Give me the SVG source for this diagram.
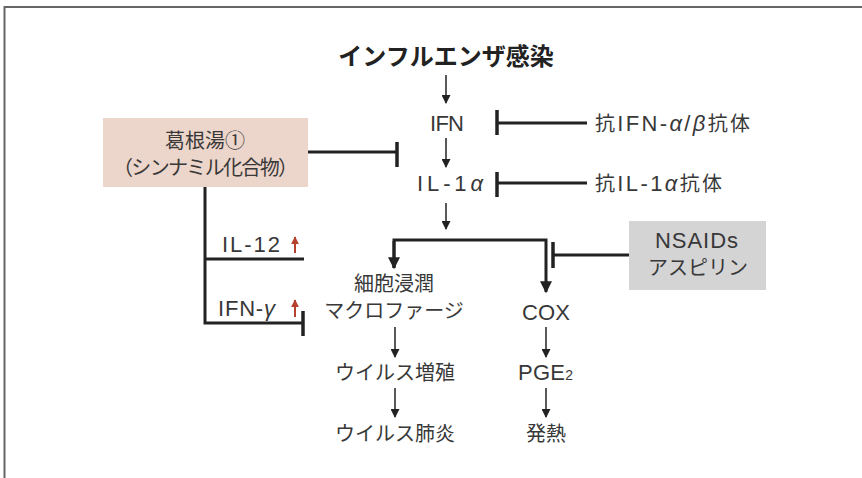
<svg xmlns="http://www.w3.org/2000/svg" width="862" height="478" viewBox="0 0 862 478">
<style>
text{font-family:"Liberation Sans","Noto Sans CJK JP",sans-serif;fill:#383838;font-size:20px;text-anchor:middle}
.s{text-anchor:start}
.l{font-size:22px}
.j{font-size:20px}
.b{stroke:#222;stroke-width:3;fill:none}
.t{stroke:#222;stroke-width:1.5;fill:none}
.bar{stroke:#222;stroke-width:3.5;fill:none}
.r{stroke:#b5412e;stroke-width:2;fill:none}
.i{font-style:italic}
</style>
<defs>
<marker id="a" viewBox="0 0 10 10" refX="9" refY="5" markerWidth="11" markerHeight="9" markerUnits="userSpaceOnUse" orient="auto"><path d="M0,0L10,5L0,10z" fill="#222"/></marker>
<marker id="ab" viewBox="0 0 10 10" refX="9" refY="5" markerWidth="13" markerHeight="12" markerUnits="userSpaceOnUse" orient="auto"><path d="M0,0L10,5L0,10z" fill="#222"/></marker>
<marker id="ar" viewBox="0 0 10 10" refX="9" refY="5" markerWidth="8" markerHeight="9" markerUnits="userSpaceOnUse" orient="auto"><path d="M0,0L10,5L0,10z" fill="#b5412e"/></marker>
</defs>
<path d="M4.5,478V7H862" stroke="#666" stroke-width="2" fill="none"/>
<g id="title"><text x="446" y="65" style="font-family:'Noto Sans CJK JP',sans-serif;font-weight:bold;font-size:24px;fill:#222">インフルエンザ感染</text></g>
<g id="ifn"><text x="430" y="131" class="s l" textLength="34">IFN</text></g>
<g id="il1a"><text x="417" y="191" class="s l" textLength="66">IL-1<tspan class="i">α</tspan></text></g>
<g id="anti-ifn"><text x="595" y="131" class="s l" textLength="155"><tspan class="j">抗</tspan>IFN-<tspan class="i">α</tspan>/<tspan class="i">β</tspan><tspan class="j">抗体</tspan></text></g>
<g id="anti-il1"><text x="595" y="191" class="s l" textLength="127"><tspan class="j">抗</tspan>IL-1<tspan class="i">α</tspan><tspan class="j">抗体</tspan></text></g>
<g id="kakkonto"><rect x="103" y="118" width="205" height="69" fill="#ecd5ca"/><text x="205" y="148">葛根湯①</text><text x="113" y="175" class="s" textLength="185">（シンナミル化合物）</text></g>
<g id="nsaids"><rect x="629" y="221" width="137" height="69" fill="#d4d4d5"/><text x="655" y="248" class="s l" textLength="83">NSAIDs</text><text x="698" y="275">アスピリン</text></g>
<g id="il12"><text x="222" y="252" class="s l" textLength="58">IL-12</text><path class="r" d="M295,253V237" marker-end="url(#ar)"/></g>
<g id="ifng"><text x="218" y="316" class="s l" textLength="57">IFN-<tspan class="i">γ</tspan></text><path class="r" d="M295,317V300" marker-end="url(#ar)"/></g>
<g id="macro"><text x="394" y="291">細胞浸潤</text><text x="394" y="318">マクロファージ</text></g>
<g id="cox"><text x="522" y="320" class="s l" textLength="48">COX</text></g>
<g id="pge2"><text x="518" y="380" class="s l" textLength="55">PGE<tspan font-size="14">2</tspan></text></g>
<g id="virus-growth"><text x="395" y="380">ウイルス増殖</text></g>
<g id="pneumonia"><text x="395" y="441">ウイルス肺炎</text></g>
<g id="fever"><text x="546" y="441">発熱</text></g>
<g id="connectors">
<path class="t" d="M446,75V103" marker-end="url(#a)"/>
<path class="t" d="M446,138V167" marker-end="url(#a)"/>
<path class="t" d="M446,203V229" marker-end="url(#a)"/>
<path class="b" d="M587,123H497"/><path class="bar" d="M497,110V135"/>
<path class="b" d="M587,183H497"/><path class="bar" d="M497,172V197"/>
<path class="b" d="M394,268V240H546V292" marker-end="url(#ab)"/>
<path class="b" d="M394,241V268" marker-end="url(#ab)"/>
<path class="b" d="M629,255H553"/><path class="bar" d="M553,242V268"/>
<path class="b" d="M308,152H397"/><path class="bar" d="M397,142V167"/>
<path class="b" d="M205,187V323H303"/><path class="bar" d="M303,311V336"/>
<path class="b" d="M205,259H304"/>
<path class="t" d="M395,327V357" marker-end="url(#a)"/>
<path class="t" d="M546,327V357" marker-end="url(#a)"/>
<path class="t" d="M395,388V417" marker-end="url(#a)"/>
<path class="t" d="M546,388V417" marker-end="url(#a)"/>
</g>
</svg>
